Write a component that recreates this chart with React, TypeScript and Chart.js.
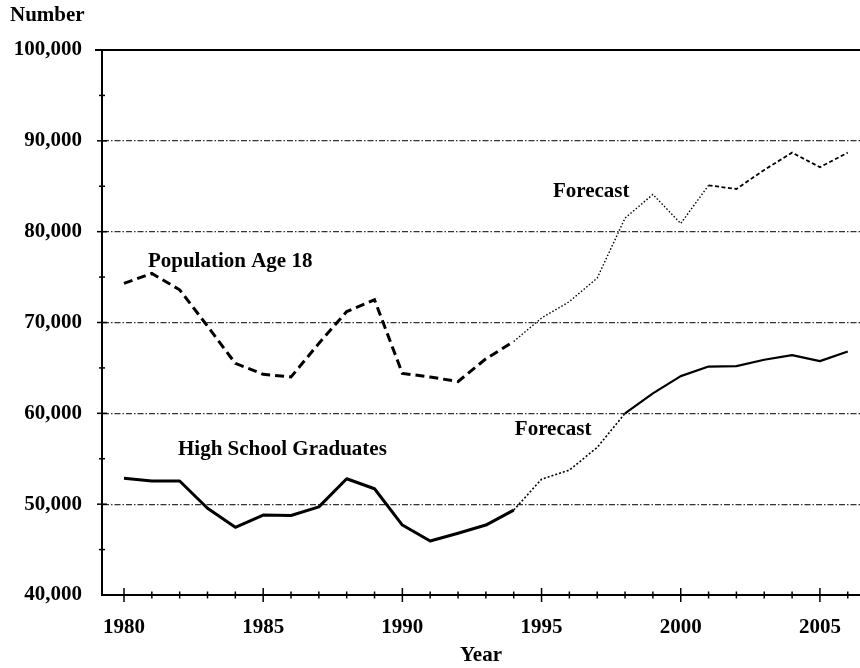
import React, { useEffect, useRef } from "react";
import { Chart, registerables } from "chart.js";

Chart.register(...registerables);

// ---- Data ----
const YEARS = [
  1980, 1981, 1982, 1983, 1984, 1985, 1986, 1987, 1988, 1989,
  1990, 1991, 1992, 1993, 1994, 1995, 1996, 1997, 1998, 1999,
  2000, 2001, 2002, 2003, 2004, 2005, 2006,
];
const POPULATION_AGE_18 = [
  74300, 75400, 73600, 69600, 65500, 64300, 64000, 67700, 71200, 72500,
  64400, 64000, 63500, 66000, 67900, 70500, 72300, 74900, 81500, 84100,
  80900, 85100, 84700, 86800, 88700, 87100, 88700,
];
const HIGH_SCHOOL_GRADUATES = [
  52850, 52550, 52550, 49550, 47450, 48800, 48750, 49700, 52800, 51700,
  47700, 45950, 46800, 47700, 49350, 52750, 53750, 56250, 60000, 62200,
  64100, 65150, 65200, 65900, 66400, 65750, 66800,
];
const FORECAST_START_YEAR = 1994;
const Y_MIN = 40000;
const Y_MAX = 100000;
const Y_STEP = 10000;
const X_LABEL_YEARS = [1980, 1985, 1990, 1995, 2000, 2005];
const Y_AXIS_TITLE = "Number";
const X_AXIS_TITLE = "Year";
const ANNOTATION_TEXTS = ["Population Age 18", "High School Graduates", "Forecast", "Forecast"];
const ANNOTATION_YEARS = [1980.86, 1981.94, 1995.41, 1994.04];
const ANNOTATION_VALUES = [76670, 55970, 84380, 58170];

const FONT_FAMILY = "'Liberation Serif', 'Times New Roman', serif";
const FONT_SIZE = 21;

const decorPlugin = {
  id: "decor",
  afterDraw(chart: any) {
    const { ctx, chartArea, scales } = chart;
    const x = scales.x;
    const y = scales.y;
    ctx.save();
    ctx.setLineDash([]);
    ctx.strokeStyle = "#000";
    // top line at max value
    const yTop = y.getPixelForValue(Y_MAX);
    ctx.lineWidth = 2;
    ctx.beginPath();
    ctx.moveTo(chartArea.left - 7, yTop);
    ctx.lineTo(chartArea.right, yTop);
    ctx.stroke();
    // x tick marks crossing the axis
    const axisY = y.getPixelForValue(Y_MIN);
    ctx.lineWidth = 1.5;
    for (let yr = YEARS[0]; yr <= YEARS[YEARS.length - 1]; yr++) {
      const px = x.getPixelForValue(yr);
      const len = yr % 5 === 0 ? 7 : 3.5;
      ctx.beginPath();
      ctx.moveTo(px, axisY - len);
      ctx.lineTo(px, axisY + len);
      ctx.stroke();
    }
    // y tick marks crossing the axis
    const axisX = chartArea.left;
    for (let v = Y_MIN + Y_STEP / 2; v < Y_MAX; v += Y_STEP / 2) {
      const py = y.getPixelForValue(v);
      const len = v % Y_STEP === 0 ? 5 : 3;
      ctx.beginPath();
      ctx.moveTo(axisX - len, py);
      ctx.lineTo(axisX + len, py);
      ctx.stroke();
    }
    // annotations
    ctx.fillStyle = "#000";
    ctx.font = `bold ${FONT_SIZE}px ${FONT_FAMILY}`;
    ctx.textAlign = "left";
    ctx.textBaseline = "middle";
    ANNOTATION_TEXTS.forEach((t, i) => {
      ctx.fillText(t, x.getPixelForValue(ANNOTATION_YEARS[i]), y.getPixelForValue(ANNOTATION_VALUES[i]));
    });
    // y axis title (top-left)
    ctx.fillText(Y_AXIS_TITLE, 10, 16);
    ctx.restore();
  },
};

function styleFor(kind: "pop" | "grad", idx: number) {
  const yr = YEARS[idx];
  if (kind === "pop") {
    if (yr < FORECAST_START_YEAR) return { dash: [9, 5], width: 3 };
    if (yr < 2001) return { dash: [1.5, 2], width: 1.4 };
    return { dash: [4, 2.5], width: 1.8 };
  }
  if (yr < FORECAST_START_YEAR) return { dash: [], width: 3 };
  if (yr < 1998) return { dash: [2, 2], width: 1.6 };
  return { dash: [], width: 2.2 };
}

export default function App() {
  const ref = useRef<HTMLCanvasElement | null>(null);
  useEffect(() => {
    if (!ref.current) return;
    const chart = new Chart(ref.current, {
      type: "line",
      data: {
        datasets: [
          {
            label: "Population Age 18",
            data: YEARS.map((yr, i) => ({ x: yr, y: POPULATION_AGE_18[i] })),
            borderColor: "#000",
            borderWidth: 3,
            pointRadius: 0,
            tension: 0,
            fill: false,
            borderCapStyle: "butt",
            segment: {
              borderDash: (c: any) => styleFor("pop", c.p0DataIndex).dash,
              borderWidth: (c: any) => styleFor("pop", c.p0DataIndex).width,
            },
          },
          {
            label: "High School Graduates",
            data: YEARS.map((yr, i) => ({ x: yr, y: HIGH_SCHOOL_GRADUATES[i] })),
            borderColor: "#000",
            borderWidth: 3,
            pointRadius: 0,
            tension: 0,
            fill: false,
            borderJoinStyle: "round",
            segment: {
              borderDash: (c: any) => styleFor("grad", c.p0DataIndex).dash,
              borderWidth: (c: any) => styleFor("grad", c.p0DataIndex).width,
            },
          },
        ],
      },
      options: {
        responsive: false,
        animation: false,
        layout: { padding: { top: 50, right: 0, left: 0, bottom: 0 } },
        plugins: { legend: { display: false }, tooltip: { enabled: false } },
        scales: {
          x: {
            type: "linear",
            min: 1979.21,
            max: 2006.44,
            afterFit: (s: any) => {
              s.height = 73;
              s.paddingLeft = 0;
              s.paddingRight = 0;
            },
            afterBuildTicks: (s: any) => {
              s.ticks = X_LABEL_YEARS.map((v) => ({ value: v }));
            },
            ticks: {
              autoSkip: false,
              maxRotation: 0,
              padding: 20,
              color: "#000",
              font: { family: FONT_FAMILY, size: FONT_SIZE, weight: "bold" },
              callback: (v: any) => String(v),
            },
            grid: { display: false, drawTicks: false },
            border: { display: true, color: "#000", width: 2 },
            title: {
              display: true,
              text: X_AXIS_TITLE,
              color: "#000",
              font: { family: FONT_FAMILY, size: FONT_SIZE, weight: "bold" },
              padding: { top: 0, bottom: 0 },
            },
          },
          y: {
            min: Y_MIN,
            max: Y_MAX,
            afterFit: (s: any) => {
              s.width = 102;
              s.paddingTop = 0;
              s.paddingBottom = 0;
            },
            ticks: {
              stepSize: Y_STEP,
              padding: 20,
              color: "#000",
              font: { family: FONT_FAMILY, size: FONT_SIZE, weight: "bold" },
              callback: (v: any) => Number(v).toLocaleString("en-US"),
            },
            grid: {
              drawTicks: false,
              color: (c: any) =>
                c.tick && (c.tick.value === Y_MIN || c.tick.value === Y_MAX) ? "rgba(0,0,0,0)" : "#333",
              lineWidth: 1.2,
            },
            border: { display: true, color: "#000", width: 2, dash: [6, 2, 1.5, 2] },
          },
        },
      },
      plugins: [decorPlugin],
    });
    return () => chart.destroy();
  }, []);
  return (
    <div style={{ position: "absolute", left: 0, top: 0, width: 860, height: 668, background: "#fff" }}>
      <canvas ref={ref} width={860} height={668} style={{ display: "block" }} />
    </div>
  );
}
